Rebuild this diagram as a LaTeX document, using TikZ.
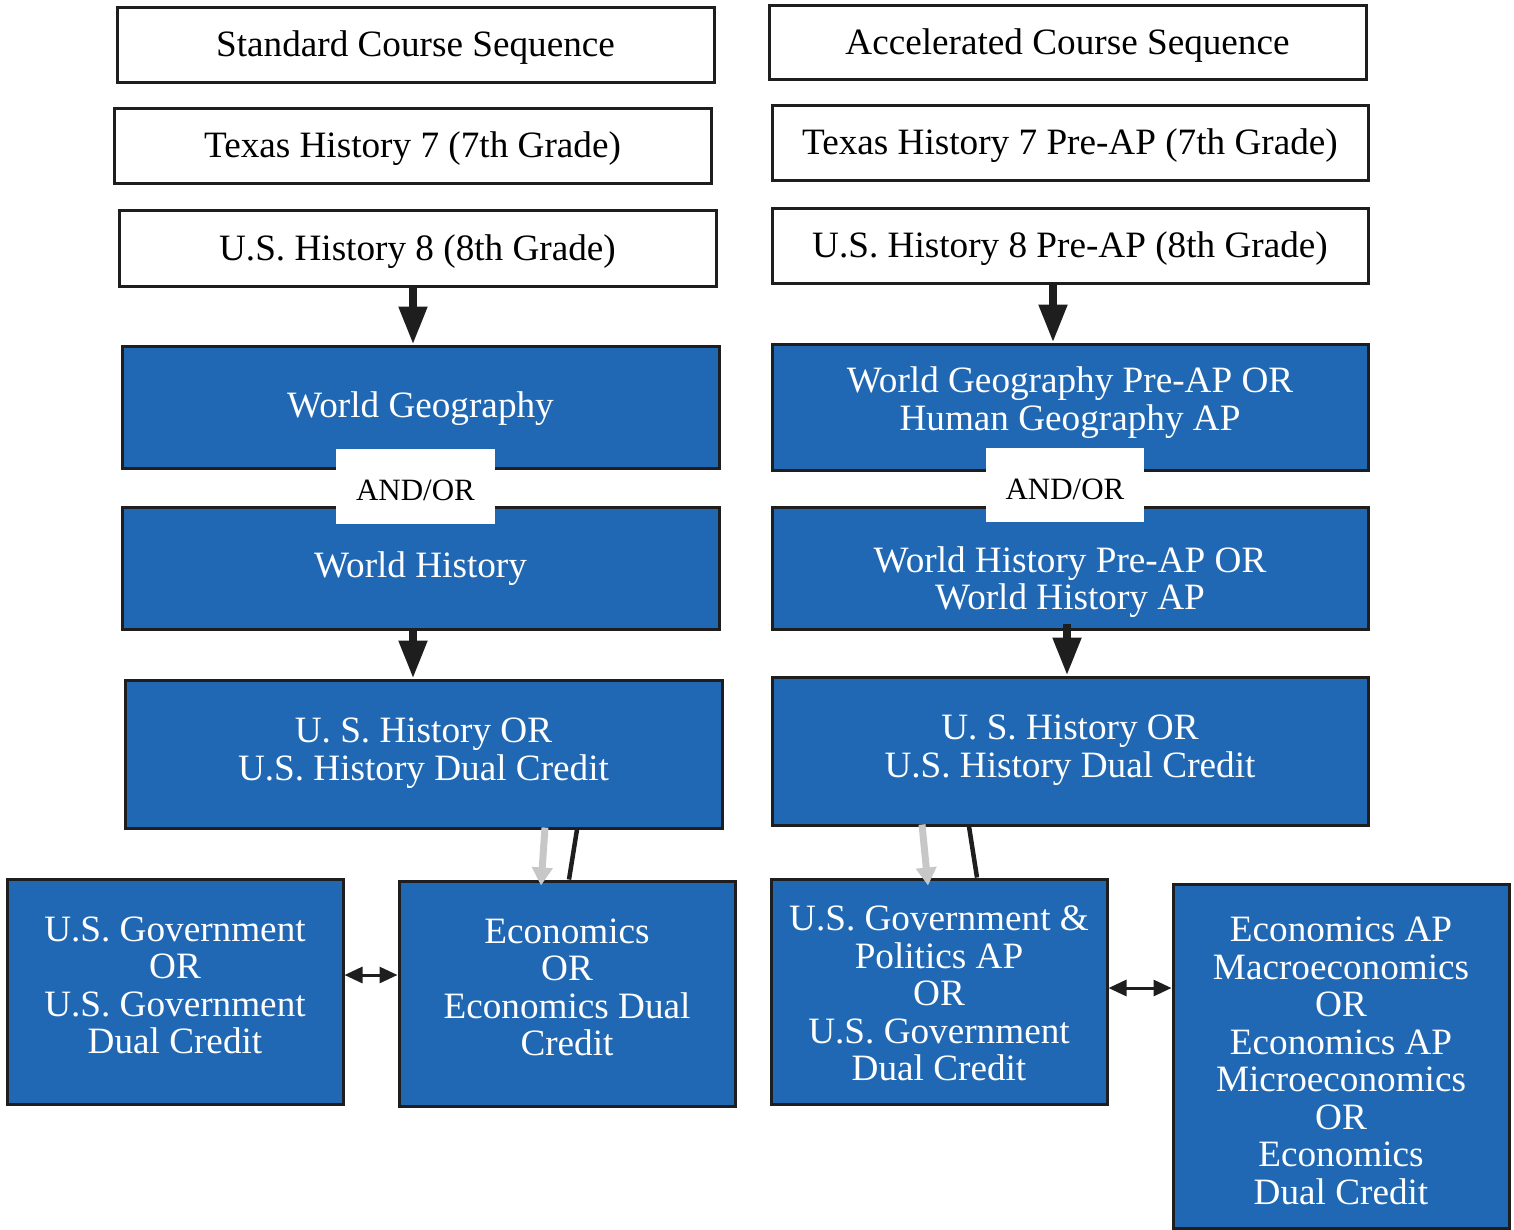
\documentclass[tikz,border=0pt]{standalone}
\usepackage{fontspec}
\setmainfont{Liberation Serif}
\usetikzlibrary{arrows.meta}
\definecolor{boxblue}{RGB}{33,104,180}
\definecolor{edge}{RGB}{30,30,30}
\tikzset{
  wbox/.style={draw=edge, line width=3pt, fill=white, inner sep=0pt},
  bbox/.style={draw=edge, line width=3pt, fill=boxblue, inner sep=0pt},
  wtext/.style={inner sep=0pt, align=center, font=\fontsize{37.2}{37.5}\selectfont, text=black},
  btext/.style={inner sep=0pt, align=center, font=\fontsize{37.2}{37.5}\selectfont, text=white},
  andor/.style={fill=white, inner sep=0pt, minimum width=159pt, minimum height=75pt},
  aotext/.style={inner sep=0pt, font=\fontsize{31}{33}\selectfont, text=black},
  bigarrow/.style={draw=edge, line width=8pt, -{Triangle[width=27pt,length=38pt]}},
  ghost/.style={draw=black!22, line width=7pt, -{Triangle[width=20pt,length=18pt]}},
  link/.style={draw=edge, line width=4.5pt},
  dbl/.style={draw=edge, line width=3pt, {Triangle[width=16pt,length=18pt]}-{Triangle[width=16pt,length=18pt]}},
}
\begin{document}
\begin{tikzpicture}[x=1pt,y=-1pt]
\useasboundingbox (0,0) rectangle (1514,1229);
% left column boxes
\node[wbox, minimum width=597pt, minimum height=75pt] (std) at (415.5,44.5) {};
\node[wbox, minimum width=597pt, minimum height=75pt] (tx7) at (412.5,145.5) {};
\node[wbox, minimum width=597pt, minimum height=76pt] (us8) at (417.5,248) {};
\node[bbox, minimum width=597pt, minimum height=122pt] (wg) at (420.5,407) {};
\node[bbox, minimum width=597pt, minimum height=122pt] (wh) at (420.5,568) {};
\node[andor] (aoL) at (415.5,486.5) {};
\node[bbox, minimum width=597pt, minimum height=148pt] (ush) at (423.5,754) {};
\node[bbox, minimum width=336pt, minimum height=225pt] (gov) at (175,991.5) {};
\node[bbox, minimum width=336pt, minimum height=225pt] (eco) at (567,993.5) {};
% right column boxes
\node[wbox, minimum width=597pt, minimum height=74pt] (acc) at (1067.5,42) {};
\node[wbox, minimum width=596pt, minimum height=75pt] (tx7p) at (1070,142.5) {};
\node[wbox, minimum width=596pt, minimum height=75pt] (us8p) at (1070,245.5) {};
\node[bbox, minimum width=596pt, minimum height=126pt] (wgp) at (1070,407) {};
\node[bbox, minimum width=596pt, minimum height=122pt] (whp) at (1070,568) {};
\node[andor, minimum width=158pt, minimum height=74pt] (aoR) at (1065,485) {};
\node[bbox, minimum width=596pt, minimum height=148pt] (ushR) at (1070,751) {};
\node[bbox, minimum width=336pt, minimum height=225pt] (govR) at (939,991.5) {};
\node[bbox, minimum width=336pt, minimum height=344pt] (ecoR) at (1341,1056) {};
% texts
\node[wtext] (stdT) at ([yshift=-3.5pt]std.center) {Standard Course Sequence};
\node[wtext] (tx7T) at ([yshift=-3.5pt]tx7.center) {Texas History 7 (7th Grade)};
\node[wtext] (us8T) at ([yshift=-3.5pt]us8.center) {U.S. History 8 (8th Grade)};
\node[btext] (wgT) at ([yshift=-2pt]wg.center) {World Geography};
\node[btext] (whT) at ([yshift=-1pt]wh.center) {World History};
\node[aotext] (aoLT) at ([yshift=-4pt]aoL.center) {AND/OR};
\node[btext] (ushT) at ([yshift=1pt]ush.center) {U. S. History OR\\U.S. History Dual Credit};
\node[btext] (govT) at ([yshift=6pt]gov.center) {U.S. Government\\OR\\U.S. Government\\Dual Credit};
\node[btext] (ecoT) at ([yshift=6pt]eco.center) {Economics\\OR\\Economics Dual\\Credit};
\node[wtext] (accT) at ([yshift=-3.5pt]acc.center) {Accelerated Course Sequence};
\node[wtext] (tx7pT) at ([yshift=-3.5pt]tx7p.center) {Texas History 7 Pre-AP (7th Grade)};
\node[wtext] (us8pT) at ([yshift=-3.5pt]us8p.center) {U.S. History 8 Pre-AP (8th Grade)};
\node[btext] (wgpT) at ([yshift=4.5pt]wgp.center) {World Geography Pre-AP OR\\Human Geography AP};
\node[btext] (whpT) at ([yshift=-14pt]whp.center) {World History Pre-AP OR\\World History AP};
\node[aotext] (aoRT) at ([yshift=-4pt]aoR.center) {AND/OR};
\node[btext] (ushRT) at ([yshift=1pt]ushR.center) {U. S. History OR\\U.S. History Dual Credit};
\node[btext] (govRT) at ([yshift=-2pt]govR.center) {U.S. Government \&\\Politics AP\\OR\\U.S. Government\\Dual Credit};
\node[btext] (ecoRT) at ([yshift=-5pt]ecoR.center) {Economics AP\\Macroeconomics\\OR\\Economics AP\\Microeconomics\\OR\\Economics\\Dual Credit};
% connectors left
\draw[bigarrow] ([xshift=-4.5pt]us8.south) -- ([xshift=-4.5pt]us8.south |- wg.north);
\draw[bigarrow] ([xshift=-7.5pt]wh.south) -- ([xshift=-7.5pt]wh.south |- ush.north);
\draw[ghost] ([xshift=121.5pt,yshift=2pt]ush.south) -- ([xshift=-26pt,yshift=-6pt]eco.north);
\draw[link] ([xshift=153.5pt]ush.south) -- ([xshift=2pt]eco.north);
\draw[dbl] (gov.east |- 0,975) -- (eco.west |- 0,975);
% connectors right
\draw[bigarrow] ([xshift=-17pt]us8p.south) -- ([xshift=-17pt]us8p.south |- wgp.north);
\draw[bigarrow] ([xshift=-3pt,yshift=7pt]whp.south) -- ([xshift=-3pt]whp.south |- ushR.north);
\draw[ghost] ([xshift=-148pt,yshift=2pt]ushR.south) -- ([xshift=-11pt,yshift=-8pt]govR.north);
\draw[link] ([xshift=-101pt]ushR.south) -- ([xshift=38pt]govR.north);
\draw[dbl] (govR.east |- 0,988) -- (ecoR.west |- 0,988);
\end{tikzpicture}
\end{document}
